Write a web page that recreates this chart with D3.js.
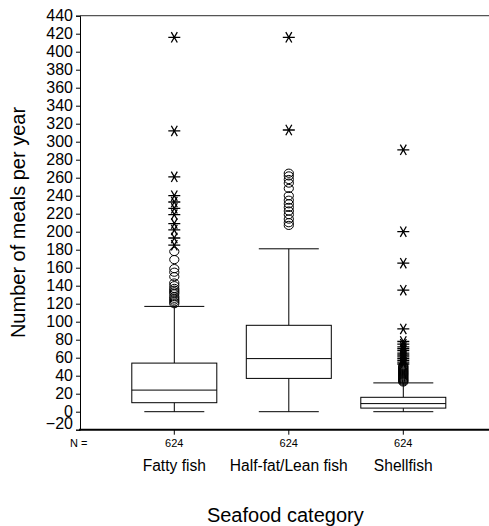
<!DOCTYPE html>
<html>
<head>
<meta charset="utf-8">
<script src="https://cdn.jsdelivr.net/npm/d3@7"></script>
<style>
  body { margin: 0; background: #fff; }
  svg { display: block; font-family: "Liberation Sans", Arial, sans-serif; }
</style>
</head>
<body>
<svg id="chart" width="489" height="526"></svg>
<script>
  // data
  const categories = ["Fatty fish", "Half-fat/Lean fish", "Shellfish"];
  const counts = [624, 624, 624];
  const whiskerLow = [0, 0, 0];
  const q1 = [10, 37, 4];
  const median = [24, 59, 9];
  const q3 = [54, 96, 16];
  const whiskerHigh = [117, 181, 32];
  const outliers = [
    [120, 122, 124, 126, 128, 131, 133, 135, 137, 140, 143, 150, 155, 159, 169, 178],
    [207, 210, 214, 219, 223, 227, 231, 235, 240, 248, 254, 258, 262, 265],
    [33, 34, 35, 36, 37, 38, 39, 40, 41, 42, 43, 44, 45, 46, 47, 48, 49, 50, 51]
  ];
  const extremes = [
    [185, 193, 202, 209, 219, 226, 233, 240, 261, 312, 416],
    [313, 416],
    [53, 55, 57, 59, 61, 63, 65, 68, 70, 72, 75, 78, 92, 135, 165, 200, 291]
  ];
  const yTicks = d3.range(-20, 441, 20);

  const svg = d3.select("#chart");
  const plotLeft = 80, plotRight = 489, plotTop = 15.7, plotBottom = 429.7;

  const y = d3.scaleLinear().domain([-20, 440]).range([plotBottom, plotTop]);
  const x = d3.scalePoint().domain(categories).range([174.3, 403.3]);

  const boxW = 85, capW = 60;

  // frame
  svg.append("line")
    .attr("x1", plotLeft).attr("x2", plotRight).attr("y1", plotTop).attr("y2", plotTop)
    .attr("stroke", "#555").attr("stroke-width", 1.3);

  // y axis
  const yAxis = svg.append("g")
    .attr("transform", `translate(${plotLeft},0)`)
    .call(d3.axisLeft(y).tickValues(yTicks).tickSize(4).tickPadding(3).tickFormat(d3.format("d")));
  yAxis.select(".domain").attr("stroke", "#000");
  yAxis.selectAll(".tick line").attr("stroke", "#000");
  yAxis.selectAll(".tick text")
    .attr("font-size", 16).attr("fill", "#000")
    .attr("font-family", "Liberation Sans, Arial, sans-serif")
    .attr("dy", (d) => d === -20 ? "-0.1em" : "0.32em");

  // x axis
  svg.append("line")
    .attr("x1", plotLeft - 1).attr("x2", plotRight).attr("y1", plotBottom).attr("y2", plotBottom)
    .attr("stroke", "#000").attr("stroke-width", 2);
  svg.selectAll(".xtick")
    .data(categories)
    .join("line")
    .attr("x1", (d) => x(d)).attr("x2", (d) => x(d))
    .attr("y1", plotBottom).attr("y2", plotBottom + 5)
    .attr("stroke", "#000");

  // boxes
  const g = svg.append("g").attr("stroke", "#000").attr("stroke-width", 1).attr("fill", "none");
  categories.forEach((cat, i) => {
    const cx = x(cat);
    g.append("line").attr("x1", cx).attr("x2", cx).attr("y1", y(whiskerHigh[i])).attr("y2", y(q3[i]));
    g.append("line").attr("x1", cx).attr("x2", cx).attr("y1", y(q1[i])).attr("y2", y(whiskerLow[i]));
    g.append("line").attr("x1", cx - capW / 2).attr("x2", cx + capW / 2).attr("y1", y(whiskerHigh[i])).attr("y2", y(whiskerHigh[i]));
    g.append("line").attr("x1", cx - capW / 2).attr("x2", cx + capW / 2).attr("y1", y(whiskerLow[i])).attr("y2", y(whiskerLow[i]));
    g.append("rect")
      .attr("x", cx - boxW / 2).attr("y", y(q3[i]))
      .attr("width", boxW).attr("height", y(q1[i]) - y(q3[i]))
      .attr("fill", "#fff");
    g.append("line").attr("x1", cx - boxW / 2).attr("x2", cx + boxW / 2).attr("y1", y(median[i])).attr("y2", y(median[i]));

    g.selectAll(null)
      .data(outliers[i])
      .join("ellipse")
      .attr("cx", cx).attr("cy", (d) => y(d))
      .attr("rx", 4.6).attr("ry", 4.1);

    const star = "M-6,0L6,0M-3,-5.2L3,5.2M-3,5.2L3,-5.2";
    g.selectAll(null)
      .data(extremes[i])
      .join("path")
      .attr("transform", (d) => `translate(${cx},${y(d)})`)
      .attr("d", star)
      .attr("stroke-width", 1.3);
  });

  // N row
  svg.append("text").attr("x", 70).attr("y", 447.3).attr("font-size", 11).text("N =");
  svg.selectAll(".ncount")
    .data(categories)
    .join("text")
    .attr("x", (d) => x(d)).attr("y", 447.3)
    .attr("text-anchor", "middle").attr("font-size", 11)
    .text((d, i) => counts[i]);

  // category labels
  svg.selectAll(".cat")
    .data(categories)
    .join("text")
    .attr("x", (d) => x(d)).attr("y", 471)
    .attr("text-anchor", "middle").attr("font-size", 15.6)
    .text((d) => d);

  svg.append("text")
    .attr("x", 285.3).attr("y", 521.5)
    .attr("text-anchor", "middle").attr("font-size", 20)
    .text("Seafood category");

  svg.append("text")
    .attr("transform", "translate(25,222.5) rotate(-90)")
    .attr("text-anchor", "middle").attr("font-size", 20)
    .text("Number of meals per year");
</script>
</body>
</html>
